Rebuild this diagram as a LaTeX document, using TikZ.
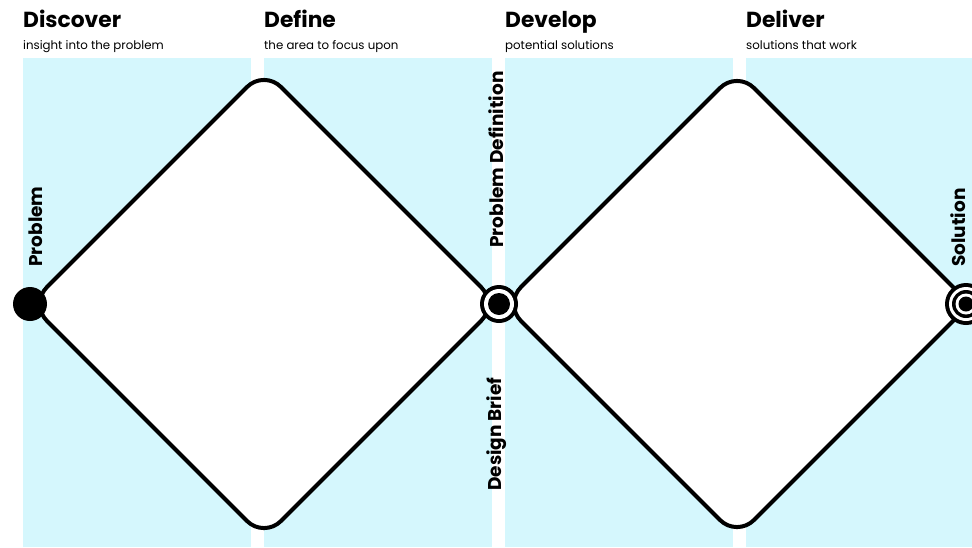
\documentclass[tikz,border=0pt]{standalone}
\usepackage{fontspec}
\setmainfont{Poppins}
\definecolor{panelcyan}{RGB}{213,247,253}
\tikzset{
  panel/.style={fill=panelcyan, draw=none},
  title/.style={anchor=base west, inner sep=0pt, font=\fontsize{21.8}{25}\selectfont\bfseries},
  subtitle/.style={anchor=base west, inner sep=0pt, font=\fontsize{11.8}{13}\selectfont},
  vlabel/.style={anchor=base west, inner sep=0pt, rotate=90, font=\fontsize{18.5}{21}\selectfont\bfseries},
  diamondline/.style={line width=4pt, rounded corners=24pt},
}
\begin{document}
\begin{tikzpicture}[x=1pt, y=-1pt]
\useasboundingbox (0,0) rectangle (972,547);
% panels
\path[panel] (23,58) rectangle (251,547);
\path[panel] (264,58) rectangle (492,547);
\path[panel] (505,58) rectangle (733,547);
\path[panel] (746,58) rectangle (972,547);
% titles
\node[title] (t1) at (23,27) {Discover};
\node[title] (t2) at (264,27) {Define};
\node[title] (t3) at (505,27) {Develop};
\node[title] (t4) at (746,27) {Deliver};
\node[subtitle] (s1) at (23,49) {insight into the problem};
\node[subtitle] (s2) at (264,49) {the area to focus upon};
\node[subtitle] (s3) at (505,49) {potential solutions};
\node[subtitle] (s4) at (746,49) {solutions that work};
% diamond vertices
\coordinate (aL) at (30,304);
\coordinate (aT) at (264,70);
\coordinate (aR) at (498,304);
\coordinate (aB) at (264,538);
\coordinate (bL) at (504,304);
\coordinate (bT) at (737,71);
\coordinate (bR) at (970,304);
\coordinate (bB) at (737,537);
\draw[diamondline, fill=white] (aL) -- (aT) -- (aR) -- (aB) -- cycle;
\draw[diamondline, fill=white] (bL) -- (bT) -- (bR) -- (bB) -- cycle;
% circles
\fill[black] (30,304) circle (17);
\fill[black] (499,304) circle (19);
\fill[white] (499,304) circle (15);
\fill[black] (499,304) circle (11);
\fill[black] (966,304) circle (21);
\fill[white] (966,304) circle (17);
\fill[black] (966,304) circle (14);
\fill[white] (966,304) circle (10.5);
\fill[black] (966,304) circle (7.5);
% vertical labels
\node[vlabel] (lp) at (42,267) {Problem};
\node[vlabel] (lpd) at (503,248) {Problem Definition};
\node[vlabel] (ldb) at (501,491) {Design Brief};
\node[vlabel] (ls) at (965,267) {Solution};
\end{tikzpicture}
\end{document}
